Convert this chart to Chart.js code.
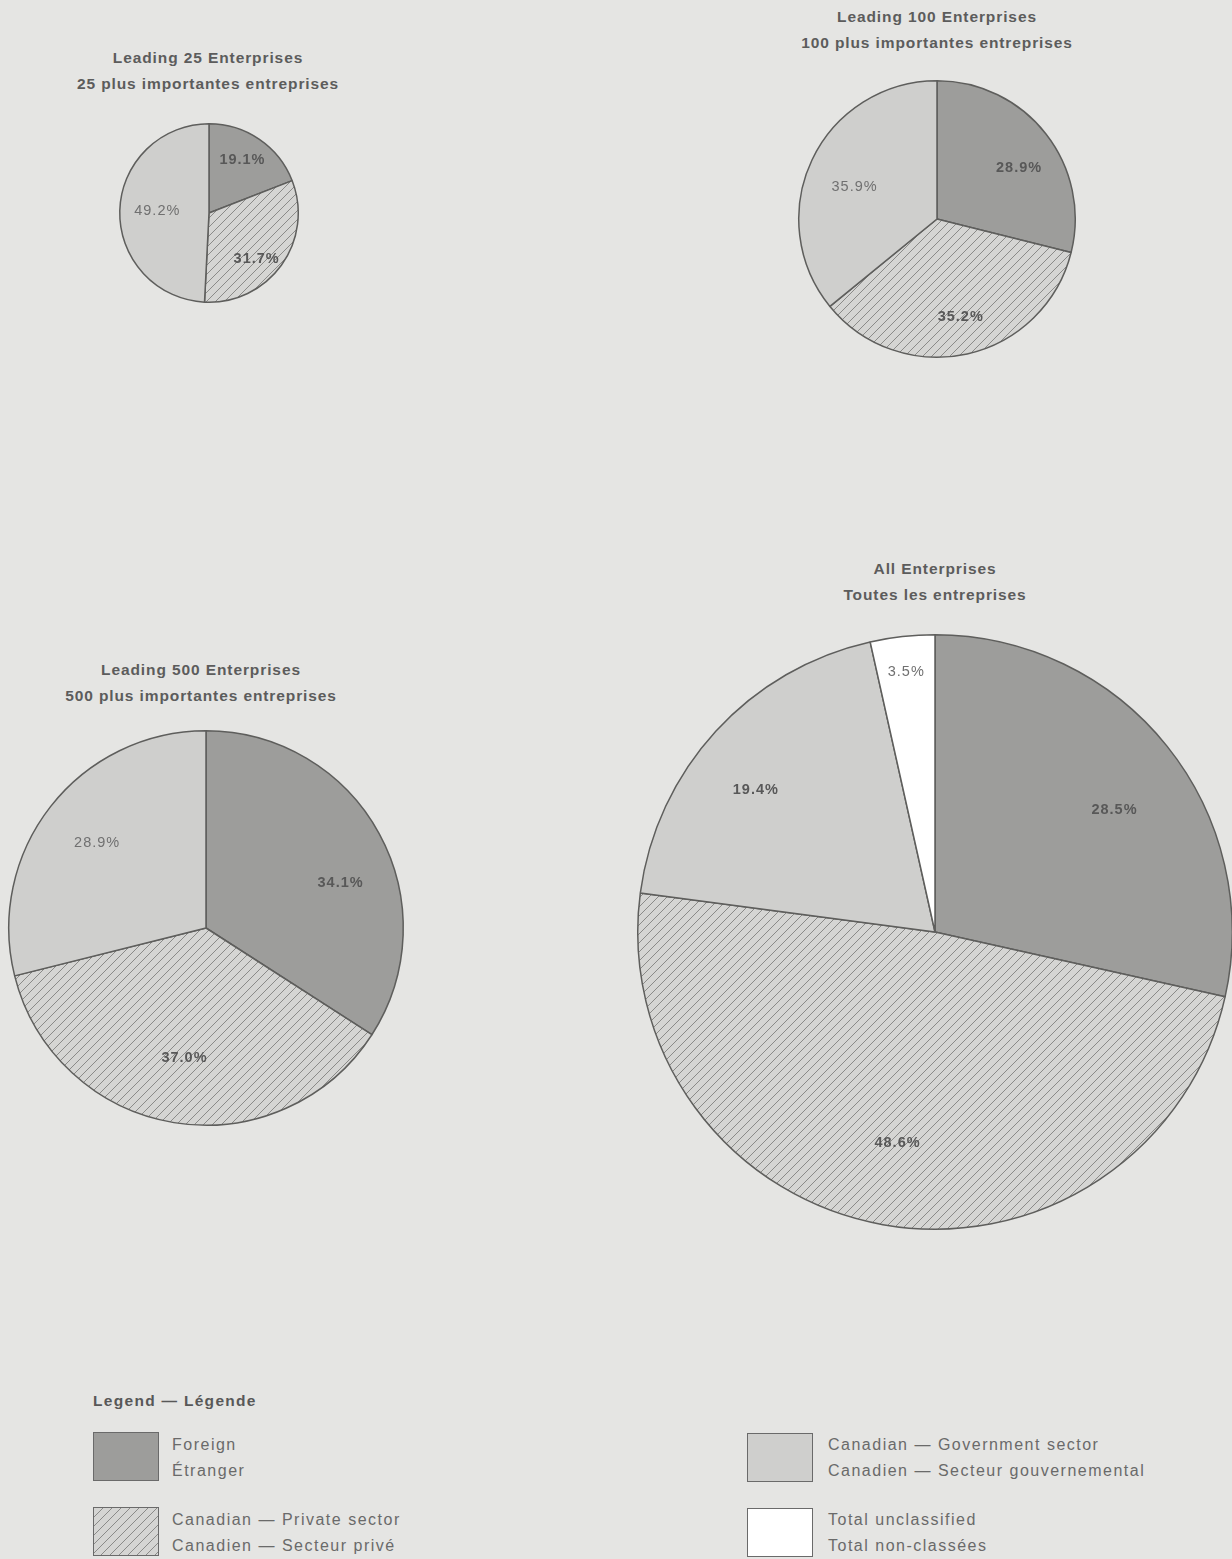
<!DOCTYPE html>
<html>
<head>
<meta charset="utf-8">
<script src="https://cdn.jsdelivr.net/npm/chart.js@4.4.1/dist/chart.umd.min.js"></script>
<style>
  html, body { margin: 0; padding: 0; }
  body {
    width: 1232px; height: 1559px; position: relative; overflow: hidden;
    background: #e5e5e3;
    font-family: "Liberation Sans", Arial, sans-serif; color: #555;
  }
  .title { position: absolute; width: 400px; text-align: center; font-weight: bold; font-size: 15.5px; line-height: 26px; color: #5c5c5c; letter-spacing: 0.9px; }
  .pie { position: absolute; }
  .legend-head { position: absolute; left: 93px; top: 1392px; font-weight: bold; font-size: 15.5px; color: #585858; letter-spacing: 1.3px; }
  .swatch { position: absolute; width: 66px; height: 49px; border: 1.5px solid #6a6a6a; box-sizing: border-box; }
  .ltext { position: absolute; font-size: 16px; line-height: 26px; color: #6a6a6a; letter-spacing: 1.5px; }
</style>
</head>
<body>

<div class="title" style="left:8px; top:45px;">Leading 25 Enterprises<br>25 plus importantes entreprises</div>
<div class="title" style="left:737px; top:4px;">Leading 100 Enterprises<br>100 plus importantes entreprises</div>
<div class="title" style="left:1px; top:657px;">Leading 500 Enterprises<br>500 plus importantes entreprises</div>
<div class="title" style="left:735px; top:556px;">All Enterprises<br>Toutes les entreprises</div>

<div class="pie" style="left:117px; top:121px;"><canvas id="pie25" width="184" height="184"></canvas></div>
<div class="pie" style="left:796px; top:78px;"><canvas id="pie100" width="282" height="282"></canvas></div>
<div class="pie" style="left:6px; top:728px;"><canvas id="pie500" width="400" height="400"></canvas></div>
<div class="pie" style="left:635px; top:632px;"><canvas id="pieAll" width="600" height="600"></canvas></div>

<div class="legend-head">Legend — Légende</div>
<div class="swatch" style="left:93px; top:1432px; background:#9d9d9b;"></div>
<div class="ltext" style="left:172px; top:1432px;">Foreign<br>Étranger</div>
<div class="swatch" id="hatchSwatch" style="left:93px; top:1507px;"></div>
<div class="ltext" style="left:172px; top:1507px;">Canadian — Private sector<br>Canadien — Secteur privé</div>
<div class="swatch" style="left:747px; top:1433px; background:#cfcfcd;"></div>
<div class="ltext" style="left:828px; top:1432px;">Canadian — Government sector<br>Canadien — Secteur gouvernemental</div>
<div class="swatch" style="left:747px; top:1508px; background:#ffffff;"></div>
<div class="ltext" style="left:828px; top:1507px;">Total unclassified<br>Total non-classées</div>

<script>
// --- Data ---
const categories = ["Foreign", "Canadian — Private sector", "Canadian — Government sector", "Total unclassified"];
const leading25 = [19.1, 31.7, 49.2, 0];
const leading100 = [28.9, 35.2, 35.9, 0];
const leading500 = [34.1, 37.0, 28.9, 0];
const allEnterprises = [28.5, 48.6, 19.4, 3.5];

// --- Hatch pattern for private sector ---
function makeHatch() {
    const c = document.createElement("canvas");
    c.width = 9; c.height = 9;
    const g = c.getContext("2d");
    g.fillStyle = "#d5d5d3";
    g.fillRect(0, 0, 9, 9);
    g.strokeStyle = "#8a8a88";
    g.lineWidth = 1;
    g.beginPath();
    g.moveTo(-1, 10); g.lineTo(10, -1);
    g.moveTo(-1, 1); g.lineTo(1, -1);
    g.moveTo(8, 10); g.lineTo(10, 8);
    g.stroke();
    return c;
}
const hatchCanvas = makeHatch();
document.getElementById("hatchSwatch").style.background = "url(" + hatchCanvas.toDataURL() + ")";

// --- Percentage labels inside the slices ---
// dist: fraction of radius, turn: degrees added to the slice's mid angle
const sliceLabels = {
    id: "sliceLabels",
    afterDatasetsDraw(chart, args, opts) {
        const ctx = chart.ctx;
        const arcs = chart.getDatasetMeta(0).data;
        const values = chart.data.datasets[0].data;
        ctx.save();
        ctx.textAlign = "center";
        ctx.textBaseline = "middle";
        ctx.letterSpacing = "1px";
        arcs.forEach((arc, i) => {
            if (!values[i]) return;
            const mid = (arc.startAngle + arc.endAngle) / 2 + opts.turn[i] * Math.PI / 180;
            const f = opts.dist[i];
            const x = arc.x + Math.cos(mid) * arc.outerRadius * f;
            const y = arc.y + Math.sin(mid) * arc.outerRadius * f;
            ctx.font = (opts.bold[i] ? "bold " : "") + "14.5px 'Liberation Sans', Arial, sans-serif";
            ctx.fillStyle = opts.bold[i] ? "#585858" : "#707070";
            ctx.fillText(values[i].toFixed(1) + "%", x, y);
        });
        ctx.restore();
    }
};

function drawPie(id, values, dist, turn, bold) {
    const ctx = document.getElementById(id).getContext("2d");
    const hatch = ctx.createPattern(hatchCanvas, "repeat");
    return new Chart(ctx, {
        type: "pie",
        data: {
            labels: categories,
            datasets: [{
                data: values,
                backgroundColor: ["#9d9d9b", hatch, "#cfcfcd", "#ffffff"],
                borderColor: "#5e5e5c",
                borderWidth: 1.5
            }]
        },
        options: {
            responsive: false,
            animation: false,
            layout: { padding: 2 },
            plugins: {
                legend: { display: false },
                tooltip: { enabled: false },
                sliceLabels: { dist: dist, turn: turn, bold: bold }
            }
        },
        plugins: [sliceLabels]
    });
}

drawPie("pie25", leading25, [0.70, 0.74, 0.58, 0.8], [-2, 8, 1, 0], [true, true, false, false]);
drawPie("pie100", leading100, [0.70, 0.73, 0.64, 0.8], [6, -1, -4, 0], [true, true, false, false]);
drawPie("pie500", leading500, [0.72, 0.67, 0.70, 0.8], [10, 0, 0, 0], [true, true, false, false]);
drawPie("pieAll", allEnterprises, [0.73, 0.72, 0.77, 0.88], [4.5, 0, -4, 0], [true, true, true, false]);
</script>
</body>
</html>
